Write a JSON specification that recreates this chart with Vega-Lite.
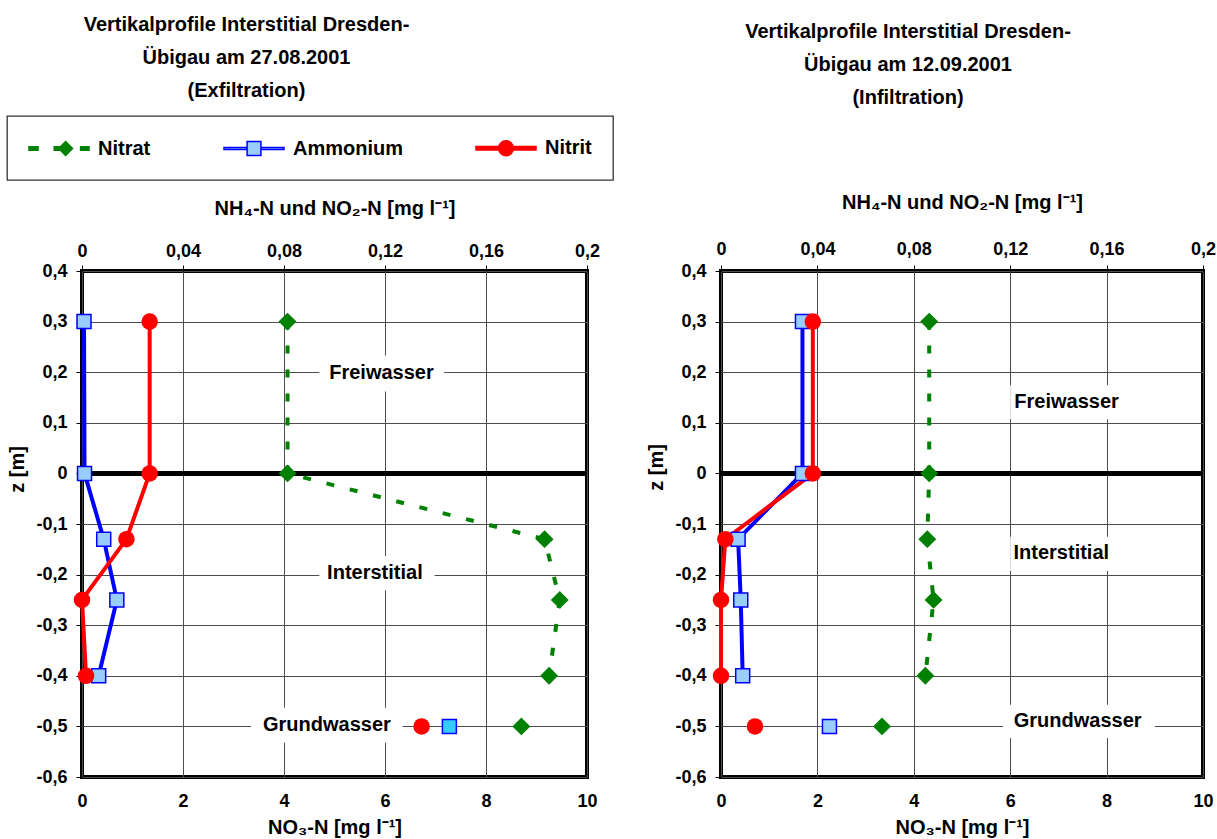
{
  "$schema": "https://vega.github.io/schema/vega-lite/v6.json",
  "background": "white",
  "padding": {"left": 4, "top": 13, "right": 0, "bottom": 0},
  "datasets": {
    "profiles": [
      {"panel": "A", "serie": "Nitrat", "z": 0.3, "v": 4.07},
      {"panel": "A", "serie": "Nitrat", "z": 0.0, "v": 4.07},
      {"panel": "A", "serie": "Nitrat", "z": -0.13, "v": 9.16},
      {"panel": "A", "serie": "Nitrat", "z": -0.25, "v": 9.46},
      {"panel": "A", "serie": "Nitrat", "z": -0.4, "v": 9.25},
      {"panel": "A", "serie": "Nitrat", "z": -0.5, "v": 8.7},
      {"panel": "A", "serie": "Ammonium", "z": 0.3, "v": 0.0008},
      {"panel": "A", "serie": "Ammonium", "z": 0.0, "v": 0.001},
      {"panel": "A", "serie": "Ammonium", "z": -0.13, "v": 0.0086},
      {"panel": "A", "serie": "Ammonium", "z": -0.25, "v": 0.0138},
      {"panel": "A", "serie": "Ammonium", "z": -0.4, "v": 0.0066},
      {"panel": "A", "serie": "Ammonium", "z": -0.5, "v": 0.1455},
      {"panel": "A", "serie": "Nitrit", "z": 0.3, "v": 0.0268},
      {"panel": "A", "serie": "Nitrit", "z": 0.0, "v": 0.0268},
      {"panel": "A", "serie": "Nitrit", "z": -0.13, "v": 0.0176},
      {"panel": "A", "serie": "Nitrit", "z": -0.25, "v": 0.0},
      {"panel": "A", "serie": "Nitrit", "z": -0.4, "v": 0.0016},
      {"panel": "A", "serie": "Nitrit", "z": -0.5, "v": 0.1345},
      {"panel": "B", "serie": "Nitrat", "z": 0.3, "v": 4.32},
      {"panel": "B", "serie": "Nitrat", "z": 0.0, "v": 4.32},
      {"panel": "B", "serie": "Nitrat", "z": -0.13, "v": 4.28},
      {"panel": "B", "serie": "Nitrat", "z": -0.25, "v": 4.41},
      {"panel": "B", "serie": "Nitrat", "z": -0.4, "v": 4.24},
      {"panel": "B", "serie": "Nitrat", "z": -0.5, "v": 3.34},
      {"panel": "B", "serie": "Ammonium", "z": 0.3, "v": 0.0338},
      {"panel": "B", "serie": "Ammonium", "z": 0.0, "v": 0.0338},
      {"panel": "B", "serie": "Ammonium", "z": -0.13, "v": 0.0071},
      {"panel": "B", "serie": "Ammonium", "z": -0.25, "v": 0.0082},
      {"panel": "B", "serie": "Ammonium", "z": -0.4, "v": 0.009},
      {"panel": "B", "serie": "Ammonium", "z": -0.5, "v": 0.045},
      {"panel": "B", "serie": "Nitrit", "z": 0.3, "v": 0.0381},
      {"panel": "B", "serie": "Nitrit", "z": 0.0, "v": 0.0381},
      {"panel": "B", "serie": "Nitrit", "z": -0.13, "v": 0.0018},
      {"panel": "B", "serie": "Nitrit", "z": -0.25, "v": 0.0},
      {"panel": "B", "serie": "Nitrit", "z": -0.4, "v": 0.0},
      {"panel": "B", "serie": "Nitrit", "z": -0.5, "v": 0.0141}
    ],
    "labels": [
      {"panel": "A", "label": "Freiwasser", "v": 5.93, "z": 0.198, "v1": 4.7, "v2": 7.17, "z1": 0.162, "z2": 0.233},
      {"panel": "A", "label": "Interstitial", "v": 5.8, "z": -0.196, "v1": 4.7, "v2": 6.98, "z1": -0.231, "z2": -0.163},
      {"panel": "A", "label": "Grundwasser", "v": 4.85, "z": -0.497, "v1": 3.35, "v2": 6.35, "z1": -0.532, "z2": -0.463},
      {"panel": "B", "label": "Freiwasser", "v": 7.17, "z": 0.142, "v1": 6.0, "v2": 8.35, "z1": 0.107, "z2": 0.174},
      {"panel": "B", "label": "Interstitial", "v": 7.06, "z": -0.158, "v1": 6.0, "v2": 8.15, "z1": -0.193, "z2": -0.125},
      {"panel": "B", "label": "Grundwasser", "v": 7.4, "z": -0.489, "v1": 5.85, "v2": 9.0, "z1": -0.523, "z2": -0.457}
    ],
    "zero": [{"z": 0}]
  },
  "hconcat": [
    {
      "width": 505,
      "height": 506,
      "title": {"text": ["Vertikalprofile Interstitial Dresden-", "Übigau am 27.08.2001", "(Exfiltration)"], "dx": -88, "offset": 14},
      "encoding": {
        "y": {"field": "z", "type": "quantitative", "title": "z [m]", "scale": {"domain": [-0.6, 0.4], "nice": false, "zero": false},
          "axis": {"values": [-0.6, -0.5, -0.4, -0.3, -0.2, -0.1, 0, 0.1, 0.2, 0.3, 0.4], "grid": true, "tickSize": 6, "labelPadding": 9, "titlePadding": 8, "titleY": 198, "labelExpr": "replace(toString(round(datum.value*10)/10), '.', ',')"}}
      },
      "layer": [
        {
          "layer": [
            {
              "data": {"name": "labels"},
              "transform": [{"filter": "datum.panel === 'A'"}],
              "mark": {"type": "rect", "fill": "white"},
              "encoding": {
                "x": {"field": "v1", "type": "quantitative", "title": "NO₃-N [mg l⁻¹]", "scale": {"domain": [0, 10], "nice": false},
                  "axis": {"orient": "bottom", "values": [0, 2, 4, 6, 8, 10], "grid": true, "ticks": false, "labelPadding": 15, "titlePadding": 7}},
                "x2": {"field": "v2"},
                "y": {"field": "z1", "type": "quantitative", "title": "z [m]", "scale": {"domain": [-0.6, 0.4], "nice": false, "zero": false},
                  "axis": {"values": [-0.6, -0.5, -0.4, -0.3, -0.2, -0.1, 0, 0.1, 0.2, 0.3, 0.4], "grid": true, "tickSize": 6, "labelPadding": 9, "titlePadding": 8, "titleY": 198, "labelExpr": "replace(toString(round(datum.value*10)/10), '.', ',')"}},
                "y2": {"field": "z2"}
              }
            },
            {
              "data": {"name": "zero"},
              "mark": {"type": "rule", "color": "black", "strokeWidth": 5},
              "encoding": {}
            },
            {
              "data": {"name": "profiles"},
              "transform": [{"filter": "datum.panel === 'A' && datum.serie === 'Nitrat' && datum.z > -0.45"}],
              "mark": {"type": "line", "strokeWidth": 4, "strokeDash": [8, 16]},
              "encoding": {
                "x": {"field": "v", "type": "quantitative", "title": "NO₃-N [mg l⁻¹]", "scale": {"domain": [0, 10], "nice": false}},
                "order": {"field": "z", "sort": "descending"},
                "color": {"field": "serie", "type": "nominal", "scale": {"domain": ["Nitrat", "Ammonium", "Nitrit"], "range": ["#008000", "#0000FF", "#FF0000"]},
                  "legend": {
                    "orient": "none", "legendX": -75, "legendY": -155, "direction": "horizontal", "columns": 3, "title": null,
                    "strokeColor": "#333333", "fillColor": "white", "padding": 21, "columnPadding": 70,
                    "labelFont": "Liberation Sans", "labelFontSize": 20, "labelFontWeight": "bold", "labelColor": "black", "labelOffset": 48, "labelLimit": 400,
                    "symbolSize": 400,
                    "encode": {
                      "legend": {"update": {"strokeWidth": {"value": 1.3}}},
                      "symbols": {"update": {
                      "shape": {"signal": "datum.value === 'Nitrat' ? 'M-1,-0.18L-0.1,-0.18L-0.1,0.18L-1,0.18Z M1.52,-0.18L2.06,-0.18L2.06,0.18L1.52,0.18Z M2.66,-0.69L3.35,0L2.66,0.69L1.97,0Z M4.16,-0.18L5,-0.18L5,0.18L4.16,0.18Z' : datum.value === 'Ammonium' ? 'M-1,-0.09L1.31,-0.09L1.31,0.09L-1,0.09Z M2.69,-0.09L5,-0.09L5,0.09L2.69,0.09Z M1.31,-0.69L2.69,-0.69L2.69,0.69L1.31,0.69Z' : 'M-1,-0.18L5,-0.18L5,0.18L-1,0.18Z M2.75,0A0.75,0.75 0 1,1 1.25,0A0.75,0.75 0 1,1 2.75,0Z'"},
                      "fill": {"signal": "datum.value === 'Nitrat' ? '#008000' : datum.value === 'Ammonium' ? '#99CCFF' : '#FF0000'"},
                      "stroke": {"signal": "datum.value === 'Nitrat' ? '#008000' : datum.value === 'Ammonium' ? '#0000FF' : '#FF0000'"},
                      "strokeWidth": {"value": 1.5},
                      "strokeDash": {"value": []},
                      "opacity": {"value": 1},
                      "fillOpacity": {"value": 1},
                      "strokeOpacity": {"value": 1},
                      "size": {"value": 400}
                    }}}
                  }}
              }
            },
            {
              "data": {"name": "profiles"},
              "transform": [{"filter": "datum.panel === 'A' && datum.serie === 'Nitrat'"}],
              "mark": {"type": "point", "shape": "diamond", "filled": true, "fill": "#008000", "opacity": 1, "size": 320},
              "encoding": {
                "x": {"field": "v", "type": "quantitative", "title": "NO₃-N [mg l⁻¹]", "scale": {"domain": [0, 10], "nice": false}}
              }
            },
            {
              "data": {"name": "labels"},
              "transform": [{"filter": "datum.panel === 'A'"}],
              "mark": {"type": "text", "font": "Liberation Sans", "fontSize": 20, "fontWeight": "bold", "color": "black", "baseline": "middle", "align": "center"},
              "encoding": {
                "x": {"field": "v", "type": "quantitative", "title": "NO₃-N [mg l⁻¹]", "scale": {"domain": [0, 10], "nice": false}},
                "text": {"field": "label"}
              }
            }
          ]
        },
        {
          "layer": [
            {
              "data": {"name": "profiles"},
              "transform": [{"filter": "datum.panel === 'A' && datum.serie !== 'Nitrat' && datum.z > -0.45"}],
              "mark": {"type": "line", "strokeWidth": 4},
              "encoding": {
                "x": {"field": "v", "type": "quantitative", "title": "NH₄-N und NO₂-N [mg l⁻¹]", "scale": {"domain": [0, 0.2], "nice": false},
                  "axis": {"orient": "top", "values": [0, 0.04, 0.08, 0.12, 0.16, 0.2], "grid": false, "ticks": true, "tickSize": 6, "labelPadding": 5, "titlePadding": 24, "labelExpr": "replace(toString(round(datum.value*100)/100), '.', ',')"}},
                "order": {"field": "z", "sort": "descending"},
                "detail": {"field": "serie"},
                "color": {"field": "serie", "type": "nominal", "scale": {"domain": ["Nitrat", "Ammonium", "Nitrit"], "range": ["#008000", "#0000FF", "#FF0000"]},
                  "legend": {
                    "orient": "none", "legendX": -75, "legendY": -155, "direction": "horizontal", "columns": 3, "title": null,
                    "strokeColor": "#333333", "fillColor": "white", "padding": 21, "columnPadding": 70,
                    "labelFont": "Liberation Sans", "labelFontSize": 20, "labelFontWeight": "bold", "labelColor": "black", "labelOffset": 48, "labelLimit": 400,
                    "symbolSize": 400,
                    "encode": {
                      "legend": {"update": {"strokeWidth": {"value": 1.3}}},
                      "symbols": {"update": {
                      "shape": {"signal": "datum.value === 'Nitrat' ? 'M-1,-0.18L-0.1,-0.18L-0.1,0.18L-1,0.18Z M1.52,-0.18L2.06,-0.18L2.06,0.18L1.52,0.18Z M2.66,-0.69L3.35,0L2.66,0.69L1.97,0Z M4.16,-0.18L5,-0.18L5,0.18L4.16,0.18Z' : datum.value === 'Ammonium' ? 'M-1,-0.09L1.31,-0.09L1.31,0.09L-1,0.09Z M2.69,-0.09L5,-0.09L5,0.09L2.69,0.09Z M1.31,-0.69L2.69,-0.69L2.69,0.69L1.31,0.69Z' : 'M-1,-0.18L5,-0.18L5,0.18L-1,0.18Z M2.75,0A0.75,0.75 0 1,1 1.25,0A0.75,0.75 0 1,1 2.75,0Z'"},
                      "fill": {"signal": "datum.value === 'Nitrat' ? '#008000' : datum.value === 'Ammonium' ? '#99CCFF' : '#FF0000'"},
                      "stroke": {"signal": "datum.value === 'Nitrat' ? '#008000' : datum.value === 'Ammonium' ? '#0000FF' : '#FF0000'"},
                      "strokeWidth": {"value": 1.5},
                      "strokeDash": {"value": []},
                      "opacity": {"value": 1},
                      "fillOpacity": {"value": 1},
                      "strokeOpacity": {"value": 1},
                      "size": {"value": 400}
                    }}}
                  }}
              }
            },
            {
              "data": {"name": "profiles"},
              "transform": [{"filter": "datum.panel === 'A' && datum.serie === 'Ammonium'"}],
              "mark": {"type": "point", "shape": "square", "filled": true, "stroke": "#0000FF", "strokeWidth": 1.5, "opacity": 1, "size": 196},
              "encoding": {
                "x": {"field": "v", "type": "quantitative", "title": "NH₄-N und NO₂-N [mg l⁻¹]", "scale": {"domain": [0, 0.2], "nice": false}},
                "fill": {"condition": {"test": "datum.z < -0.45", "value": "#33CCFF"}, "value": "#99CCFF"}
              }
            },
            {
              "data": {"name": "profiles"},
              "transform": [{"filter": "datum.panel === 'A' && datum.serie === 'Nitrit'"}],
              "mark": {"type": "point", "shape": "circle", "filled": true, "fill": "#FF0000", "opacity": 1, "size": 272},
              "encoding": {
                "x": {"field": "v", "type": "quantitative", "title": "NH₄-N und NO₂-N [mg l⁻¹]", "scale": {"domain": [0, 0.2], "nice": false}}
              }
            }
          ]
        }
      ],
      "resolve": {"scale": {"x": "independent"}}
    },
    {
      "width": 482,
      "height": 506,
      "title": {"text": ["Vertikalprofile Interstitial Dresden-", "Übigau am 12.09.2001", "(Infiltration)"], "dx": -54, "offset": 84},
      "encoding": {
        "y": {"field": "z", "type": "quantitative", "title": "z [m]", "scale": {"domain": [-0.6, 0.4], "nice": false, "zero": false},
          "axis": {"values": [-0.6, -0.5, -0.4, -0.3, -0.2, -0.1, 0, 0.1, 0.2, 0.3, 0.4], "grid": true, "tickSize": 6, "labelPadding": 9, "titlePadding": 8, "titleY": 196, "labelExpr": "replace(toString(round(datum.value*10)/10), '.', ',')"}}
      },
      "layer": [
        {
          "layer": [
            {
              "data": {"name": "labels"},
              "transform": [{"filter": "datum.panel === 'B'"}],
              "mark": {"type": "rect", "fill": "white"},
              "encoding": {
                "x": {"field": "v1", "type": "quantitative", "title": "NO₃-N [mg l⁻¹]", "scale": {"domain": [0, 10], "nice": false},
                  "axis": {"orient": "bottom", "values": [0, 2, 4, 6, 8, 10], "grid": true, "ticks": false, "labelPadding": 15, "titlePadding": 7}},
                "x2": {"field": "v2"},
                "y": {"field": "z1", "type": "quantitative", "title": "z [m]", "scale": {"domain": [-0.6, 0.4], "nice": false, "zero": false},
                  "axis": {"values": [-0.6, -0.5, -0.4, -0.3, -0.2, -0.1, 0, 0.1, 0.2, 0.3, 0.4], "grid": true, "tickSize": 6, "labelPadding": 9, "titlePadding": 8, "titleY": 196, "labelExpr": "replace(toString(round(datum.value*10)/10), '.', ',')"}},
                "y2": {"field": "z2"}
              }
            },
            {
              "data": {"name": "zero"},
              "mark": {"type": "rule", "color": "black", "strokeWidth": 5},
              "encoding": {}
            },
            {
              "data": {"name": "profiles"},
              "transform": [{"filter": "datum.panel === 'B' && datum.serie === 'Nitrat' && datum.z > -0.45"}],
              "mark": {"type": "line", "strokeWidth": 4, "strokeDash": [8, 16]},
              "encoding": {
                "x": {"field": "v", "type": "quantitative", "title": "NO₃-N [mg l⁻¹]", "scale": {"domain": [0, 10], "nice": false}},
                "order": {"field": "z", "sort": "descending"},
                "color": {"field": "serie", "type": "nominal", "scale": {"domain": ["Nitrat", "Ammonium", "Nitrit"], "range": ["#008000", "#0000FF", "#FF0000"]}, "legend": null}
              }
            },
            {
              "data": {"name": "profiles"},
              "transform": [{"filter": "datum.panel === 'B' && datum.serie === 'Nitrat'"}],
              "mark": {"type": "point", "shape": "diamond", "filled": true, "fill": "#008000", "opacity": 1, "size": 320},
              "encoding": {
                "x": {"field": "v", "type": "quantitative", "title": "NO₃-N [mg l⁻¹]", "scale": {"domain": [0, 10], "nice": false}}
              }
            },
            {
              "data": {"name": "labels"},
              "transform": [{"filter": "datum.panel === 'B'"}],
              "mark": {"type": "text", "font": "Liberation Sans", "fontSize": 20, "fontWeight": "bold", "color": "black", "baseline": "middle", "align": "center"},
              "encoding": {
                "x": {"field": "v", "type": "quantitative", "title": "NO₃-N [mg l⁻¹]", "scale": {"domain": [0, 10], "nice": false}},
                "text": {"field": "label"}
              }
            }
          ]
        },
        {
          "layer": [
            {
              "data": {"name": "profiles"},
              "transform": [{"filter": "datum.panel === 'B' && datum.serie !== 'Nitrat' && datum.z > -0.45"}],
              "mark": {"type": "line", "strokeWidth": 4},
              "encoding": {
                "x": {"field": "v", "type": "quantitative", "title": "NH₄-N und NO₂-N [mg l⁻¹]", "scale": {"domain": [0, 0.2], "nice": false},
                  "axis": {"orient": "top", "values": [0, 0.04, 0.08, 0.12, 0.16, 0.2], "grid": false, "ticks": true, "tickSize": 6, "labelPadding": 7, "titlePadding": 28, "labelExpr": "replace(toString(round(datum.value*100)/100), '.', ',')"}},
                "order": {"field": "z", "sort": "descending"},
                "detail": {"field": "serie"},
                "color": {"field": "serie", "type": "nominal", "scale": {"domain": ["Nitrat", "Ammonium", "Nitrit"], "range": ["#008000", "#0000FF", "#FF0000"]}, "legend": null}
              }
            },
            {
              "data": {"name": "profiles"},
              "transform": [{"filter": "datum.panel === 'B' && datum.serie === 'Ammonium'"}],
              "mark": {"type": "point", "shape": "square", "filled": true, "fill": "#99CCFF", "stroke": "#0000FF", "strokeWidth": 1.5, "opacity": 1, "size": 196},
              "encoding": {
                "x": {"field": "v", "type": "quantitative", "title": "NH₄-N und NO₂-N [mg l⁻¹]", "scale": {"domain": [0, 0.2], "nice": false}}
              }
            },
            {
              "data": {"name": "profiles"},
              "transform": [{"filter": "datum.panel === 'B' && datum.serie === 'Nitrit'"}],
              "mark": {"type": "point", "shape": "circle", "filled": true, "fill": "#FF0000", "opacity": 1, "size": 272},
              "encoding": {
                "x": {"field": "v", "type": "quantitative", "title": "NH₄-N und NO₂-N [mg l⁻¹]", "scale": {"domain": [0, 0.2], "nice": false}}
              }
            }
          ]
        }
      ],
      "resolve": {"scale": {"x": "independent"}}
    }
  ],
  "spacing": 28,
  "resolve": {"scale": {"color": "independent"}, "legend": {"color": "independent"}},
  "config": {
    "font": "Liberation Sans",
    "view": {"stroke": "black", "strokeWidth": 4},
    "title": {"font": "Liberation Sans", "fontSize": 20, "fontWeight": "bold", "color": "black", "lineHeight": 33, "anchor": "middle", "frame": "group"},
    "axis": {
      "domain": false,
      "labelFont": "Liberation Sans", "labelFontSize": 18, "labelFontWeight": "bold", "labelColor": "black",
      "titleFont": "Liberation Sans", "titleFontSize": 20, "titleFontWeight": "bold", "titleColor": "black",
      "tickColor": "black", "tickWidth": 1,
      "gridColor": "#4d4d4d", "gridWidth": 1, "gridOpacity": 1,
      "labelOverlap": false, "labelBound": false, "labelFlush": false
    }
  }
}
